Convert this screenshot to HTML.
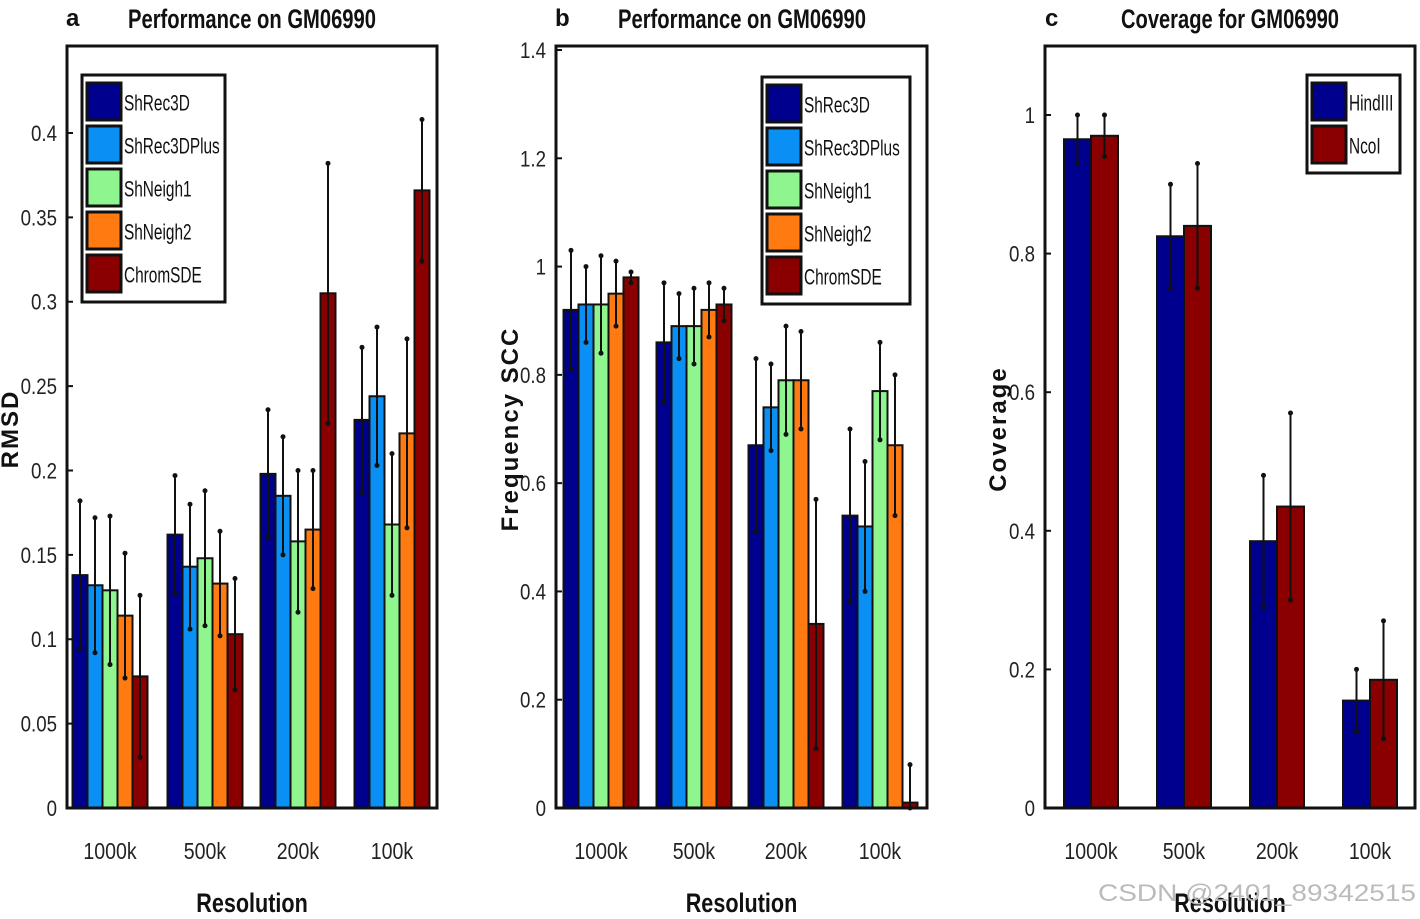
<!DOCTYPE html>
<html><head><meta charset="utf-8"><style>
html,body{margin:0;padding:0;background:#fff;}
svg{display:block;font-family:"Liberation Sans",sans-serif;}
</style></head><body>
<svg id="fig" width="1420" height="919" viewBox="0 0 1420 919"></svg>
<script>
const categories = ["1000k","500k","200k","100k"];
const seriesA = ["ShRec3D","ShRec3DPlus","ShNeigh1","ShNeigh2","ChromSDE"];
const rmsdVals = [[0.138,0.162,0.198,0.230],[0.132,0.143,0.185,0.244],[0.129,0.148,0.158,0.168],[0.114,0.133,0.165,0.222],[0.078,0.103,0.305,0.366]];
const rmsdErrTop = [[0.182,0.197,0.236,0.273],[0.172,0.180,0.220,0.285],[0.173,0.188,0.200,0.210],[0.151,0.164,0.200,0.278],[0.126,0.136,0.382,0.408]];
const sccVals = [[0.92,0.86,0.67,0.54],[0.93,0.89,0.74,0.52],[0.93,0.89,0.79,0.77],[0.95,0.92,0.79,0.67],[0.98,0.93,0.34,0.01]];
const sccErrTop = [[1.03,0.97,0.83,0.70],[1.00,0.95,0.82,0.64],[1.02,0.96,0.89,0.86],[1.01,0.97,0.88,0.80],[0.99,0.96,0.57,0.08]];
const seriesC = ["HindIII","NcoI"];
const covVals = [[0.965,0.825,0.385,0.155],[0.97,0.84,0.435,0.185]];
const covErrTop = [[1.0,0.90,0.48,0.20],[1.0,0.93,0.57,0.27]];
const ticksA = [0,0.05,0.1,0.15,0.2,0.25,0.3,0.35,0.4];
const tickLabelsA = ["0","0.05","0.1","0.15","0.2","0.25","0.3","0.35","0.4"];
const ticksB = [0,0.2,0.4,0.6,0.8,1,1.2,1.4];
const tickLabelsB = ["0","0.2","0.4","0.6","0.8","1","1.2","1.4"];
const ticksC = [0,0.2,0.4,0.6,0.8,1];
const tickLabelsC = ["0","0.2","0.4","0.6","0.8","1"];

const colors5 = ["#00008f","#0a8ff5","#8ff58f","#ff7a10","#8a0000"];
const colors2 = ["#00008f","#8a0000"];
const NS="http://www.w3.org/2000/svg";
const svg=document.getElementById('fig');
function mk(tag,attrs,parent,text){const e=document.createElementNS(NS,tag);for(const k in attrs)e.setAttribute(k,attrs[k]);if(text!==undefined)e.textContent=text;(parent||svg).appendChild(e);return e;}

function panel(o){
  const g=mk('g',{});
  
  
  const y=v=>o.y0-(v/o.ymax)*(o.y0-o.ytop);
  o.vals.forEach((ser,si)=>{
    ser.forEach((v,ci)=>{
      const cx=o.gx[ci]+(si-(o.vals.length-1)/2)*o.bw;
      const r=mk('rect',{x:cx-o.bw/2,y:y(v),width:o.bw,height:o.y0-y(v),fill:o.colors[si],stroke:'#111','stroke-width':2},g);
      
      
      const top=o.err[si][ci], lo=Math.max(0,2*v-top);
      const l=mk('line',{x1:cx,x2:cx,y1:y(top),y2:y(lo),stroke:'#111','stroke-width':2},g);
      
      
      mk('circle',{cx:cx,cy:y(top),r:2.5,fill:'#111'},g);
      mk('circle',{cx:cx,cy:y(lo),r:2.5,fill:'#111'},g);
    });
  });
  const box=mk('rect',{x:o.x0,y:o.ytop-4,width:o.x1-o.x0,height:o.y0-o.ytop+4,fill:'none',stroke:'#111','stroke-width':3},g);
  
  
  o.ticks.forEach((t,i)=>{
    mk('line',{x1:o.x0,x2:o.x0+6,y1:y(t),y2:y(t),stroke:'#111','stroke-width':2},g);
    const tx=mk('text',{x:o.x0-10,y:y(t)+8,'text-anchor':'end','font-size':22,fill:'#222',transform:`translate(${o.x0-10},0) scale(0.85,1) translate(${-(o.x0-10)},0)`},g,o.tickLabels[i]);
    
    
  });
  categories.forEach((c,ci)=>{
    const tx=mk('text',{x:o.gx[ci],y:859,'text-anchor':'middle','font-size':23,fill:'#222',transform:`translate(${o.gx[ci]},0) scale(0.85,1) translate(${-o.gx[ci]},0)`},g,c);
    
    
  });
  const xm=(o.x0+o.x1)/2;
  const xl=mk('text',{x:xm,y:912,'text-anchor':'middle','font-size':27,'font-weight':'bold',fill:'#111',transform:`translate(${xm},0) scale(0.8,1) translate(${-xm},0)`},g,'Resolution');
  
  
  const ym=(o.ytop+o.y0)/2;
  const yl=mk('text',{x:0,y:0,'text-anchor':'middle','font-size':24,'font-weight':'bold',fill:'#111','letter-spacing':2,transform:`translate(${o.ylx},${ym}) rotate(-90)`},g,o.ylabel);
  
  
  const tt=mk('text',{x:o.titleX,y:28,'font-size':27,'font-weight':'bold',fill:'#111',textLength:o.titleW,lengthAdjust:'spacingAndGlyphs'},g,o.title);
  
  
  const lt=mk('text',{x:o.letterX,y:26,'font-size':24,'font-weight':'bold',fill:'#111'},g,o.letter);
  
  
  const L=o.legend;
  const lg=mk('g',{},g);
  
  
  mk('rect',{x:L.x,y:L.y,width:L.w,height:L.step*o.series.length+12,fill:'#fff',stroke:'#111','stroke-width':3},lg);
  o.series.forEach((s,si)=>{
    const ey=L.y+8+si*L.step;
    const e=mk('g',{},lg);
    
    
    mk('rect',{x:L.x+5,y:ey,width:34,height:L.step-6,fill:o.colors[si],stroke:'#111','stroke-width':3},e);
    const tx=L.x+42;
    mk('text',{x:tx,y:ey+L.step/2+6,'font-size':22,fill:'#111',transform:`translate(${tx},0) scale(0.7,1) translate(${-tx},0)`},e,s);
  });
}

panel({name:'panel-a-rmsd',x0:67,x1:437,ytop:50,y0:808,ymax:0.4*758/675,gx:[110,205,298,392],bw:15,vals:rmsdVals,err:rmsdErrTop,series:seriesA,colors:colors5,ticks:ticksA,tickLabels:tickLabelsA,ylabel:'RMSD',ylx:18,title:'Performance on GM06990',titleX:128,titleW:248,letter:'a',letterX:66,legend:{x:82,y:75,w:143,step:43}});
panel({name:'panel-b-scc',x0:556,x1:927,ytop:50,y0:808,ymax:1.4,gx:[601,694,786,880],bw:15,vals:sccVals,err:sccErrTop,series:seriesA,colors:colors5,ticks:ticksB,tickLabels:tickLabelsB,ylabel:'Frequency SCC',ylx:518,title:'Performance on GM06990',titleX:618,titleW:248,letter:'b',letterX:555,legend:{x:762,y:77,w:148,step:43}});
panel({name:'panel-c-coverage',x0:1045,x1:1415,ytop:50,y0:808,ymax:758/693,gx:[1091,1184,1277,1370],bw:27,vals:covVals,err:covErrTop,series:seriesC,colors:colors2,ticks:ticksC,tickLabels:tickLabelsC,ylabel:'Coverage',ylx:1006,title:'Coverage for GM06990',titleX:1121,titleW:218,letter:'c',letterX:1045,legend:{x:1307,y:75,w:93,step:43}});
const wm=mk('text',{x:1098,y:901,'font-size':24,fill:'#bbb',textLength:318,lengthAdjust:'spacingAndGlyphs'},svg,'CSDN @2401_89342515');


</script>
</body></html>
